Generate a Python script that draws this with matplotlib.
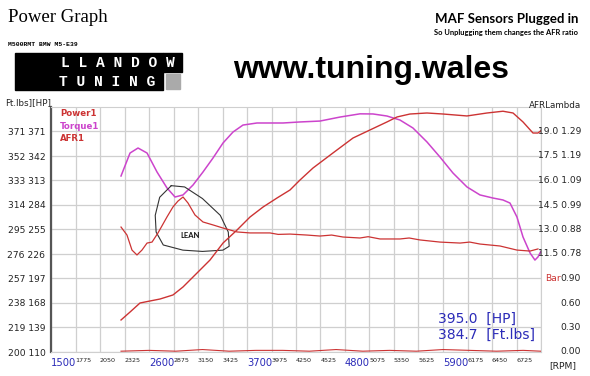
import numpy as np
import matplotlib
matplotlib.use("Agg")
import matplotlib.pyplot as plt
import matplotlib.transforms as mtrans
from matplotlib.patches import Rectangle

# dyno run
rpm_power = [2286, 2387, 2499, 2612, 2723, 2869, 2982, 3139, 3285, 3431, 3588, 3734, 3880,
             4037, 4183, 4295, 4441, 4665, 4890, 5080, 5271, 5384, 5529, 5720, 5900, 6169,
             6394, 6573, 6686, 6798, 6910, 6966, 6995]
power_hp = [147.9, 157.3, 168.0, 170.4, 172.7, 177.5, 187.0, 203.5, 218.9, 239.0, 254.4, 269.8,
            281.6, 292.3, 301.8, 313.6, 327.8, 345.6, 363.3, 372.8, 382.3, 388.2, 391.7, 392.9,
            391.7, 389.4, 392.9, 395.0, 392.9, 382.3, 369.2, 369.2, 371.6]

rpm_torque = [2286, 2387, 2477, 2578, 2690, 2802, 2892, 2982, 3094, 3206, 3318, 3431, 3543,
              3655, 3812, 4104, 4295, 4519, 4744, 4968, 5114, 5271, 5417, 5563, 5720, 5866,
              6012, 6169, 6315, 6461, 6573, 6652, 6730, 6798, 6877, 6932, 6966, 6995]
torque_ftlb = [336.5, 354.3, 358.2, 354.3, 339.6, 327.2, 320.2, 321.8, 329.5, 339.6, 350.4,
               362.1, 370.6, 376.0, 377.6, 377.6, 378.4, 379.1, 382.2, 384.7, 384.6, 383.0,
               379.9, 373.7, 362.9, 351.2, 338.8, 328.0, 321.8, 319.4, 317.9, 315.5, 304.7,
               289.2, 276.8, 271.3, 273.7, 277.6]

rpm_afr = [2286, 2353, 2409, 2465, 2521, 2578, 2634, 2701, 2802, 2869, 2925, 2982, 3038, 3116,
           3206, 3318, 3431, 3588, 3734, 3958, 4050, 4183, 4373, 4519, 4650, 4777, 4968, 5060,
           5193, 5417, 5520, 5642, 5866, 6091, 6200, 6315, 6540, 6730, 6877, 6966]
afr = [13.15, 12.66, 11.74, 11.44, 11.74, 12.17, 12.23, 12.79, 13.77, 14.38, 14.74, 14.99,
       14.62, 13.89, 13.46, 13.28, 13.09, 12.85, 12.79, 12.79, 12.70, 12.72, 12.66, 12.60,
       12.66, 12.54, 12.48, 12.56, 12.42, 12.42, 12.48, 12.36, 12.23, 12.17, 12.23, 12.11,
       11.99, 11.74, 11.68, 11.81]

rpm_bar = [2286, 2600, 2900, 3200, 3500, 3800, 4100, 4400, 4700, 5000, 5300, 5600, 5900,
           6200, 6500, 6800, 6995]
boost_bar = [0.01, 0.02, 0.01, 0.03, 0.01, 0.02, 0.02, 0.01, 0.03, 0.01, 0.02, 0.01, 0.03,
             0.02, 0.01, 0.02, 0.01]

torque_ticks = [200, 219, 238, 257, 276, 295, 314, 333, 352, 371]
hp_ticks = [110, 139, 168, 197, 226, 255, 284, 313, 342, 371]
afr_ticks = [11.5, 13.0, 14.5, 16.0, 17.5, 19.0]
lambda_labels = ["0.78", "0.88", "0.99", "1.09", "1.19", "1.29"]
bar_ticks = [0.00, 0.30, 0.60, 0.90]
rpm_ticks = list(range(1500, 6726, 275))
rpm_major = [1500, 2600, 3700, 4800, 5900]

# hand drawn ring round the lean spot (rpm, ft.lbs)
lean_rpm = [2850, 3000, 3200, 3400, 3490, 3500, 3430, 3200, 2980, 2760, 2680, 2670, 2720, 2850]
lean_tq = [329.0, 328.0, 319.0, 306.0, 293.0, 282.0, 279.0, 278.0, 279.0, 283.0, 293.0,
           306.0, 320.0, 329.0]

RED = "#cc3333"
MAG = "#cc44cc"
BLUE = "#2b2bb8"
GRID = "#cfcfcf"

fig = plt.figure(figsize=(5.9, 3.76), dpi=100)
ax = fig.add_axes([51 / 590, 24 / 376, 490 / 590, 245 / 376])

ax.set_xlim(1500, 7000)
ax.set_ylim(200, 390)
ax.set_xticks(list(range(1500, 7001, 275)))
ax.set_yticks(torque_ticks)
ax.grid(True, color=GRID, lw=0.9)
ax.set_axisbelow(True)
ax.tick_params(length=0)
ax.set_yticklabels([f"{t} {h}" for t, h in zip(torque_ticks, hp_ticks)],
                   fontsize=6.6, color="#222222")
ax.tick_params(axis="y", pad=4)
labels = []
for r in range(1500, 7001, 275):
    labels.append(str(r) if r in rpm_ticks else "")
ax.set_xticklabels(labels)
for lab in ax.get_xticklabels():
    lab.set_ha("left")
    if lab.get_text() and int(lab.get_text()) in rpm_major:
        lab.set_fontsize(7.2)
        lab.set_color(BLUE)
    else:
        lab.set_fontsize(4.6)
        lab.set_color("#222222")
ax.tick_params(axis="x", pad=4)
for s in ["top", "right", "bottom"]:
    ax.spines[s].set_color(GRID)
ax.spines["left"].set_color("#555555")
ax.spines["left"].set_linewidth(1.6)

ax.plot(rpm_torque, torque_ftlb, color=MAG, lw=1.1, zorder=3)
ax.plot(lean_rpm, lean_tq, color="#333333", lw=0.8, zorder=4)
ax.text(3060, 290, "LEAN", fontsize=5.5, fontweight="bold", family="Lato",
        ha="center", va="center", color="#111111")

axp = ax.twinx()
axp.set_ylim(110, 400)
axp.plot(rpm_power, power_hp, color=RED, lw=1.0)

axa = ax.twinx()
axa.set_ylim(5.5, 20.5)
axa.plot(rpm_afr, afr, color=RED, lw=0.9)

axb = ax.twinx()
axb.set_ylim(0, 3.0)
axb.plot(rpm_bar, boost_bar, color=RED, lw=0.8)

for a in (axp, axa, axb):
    a.set_yticks([])
    for s in a.spines.values():
        s.set_visible(False)

tr = mtrans.blended_transform_factory(ax.transAxes, axa.transData)
for v, lam in zip(afr_ticks, lambda_labels):
    axa.text(1.082, v, f"{v:.1f} {lam}", transform=tr, ha="right", va="center",
             fontsize=6.6, color="#222222")
trb = mtrans.blended_transform_factory(ax.transAxes, axb.transData)
for v in bar_ticks:
    axb.text(1.082, v, f"{v:.2f}", transform=trb, ha="right", va="center",
             fontsize=6.6, color="#222222")
axb.text(1.040, bar_ticks[-1], "Bar", transform=trb, ha="right", va="center",
         fontsize=6.6, color=RED)

# legend
ax.text(0.018, 0.99, "Power1", transform=ax.transAxes, fontsize=6.2, color=RED,
        fontweight="bold", va="top")
ax.text(0.018, 0.94, "Torque1", transform=ax.transAxes, fontsize=6.2, color=MAG,
        fontweight="bold", va="top")
ax.text(0.018, 0.89, "AFR1", transform=ax.transAxes, fontsize=6.2, color=RED,
        fontweight="bold", va="top")

# peak readout
ax.text(0.79, 0.135, f"{max(power_hp):.1f}  [HP]", transform=ax.transAxes,
        fontsize=10, color=BLUE, va="center")
ax.text(0.79, 0.07, f"{max(torque_ftlb):.1f}  [Ft.lbs]", transform=ax.transAxes,
        fontsize=10, color=BLUE, va="center")

# axis headers
fig.text(51 / 590, 1 - 103 / 376, "Ft.lbs][HP]", ha="right", va="center",
         fontsize=6.3, color="#222222")
fig.text(581 / 590, 1 - 105 / 376, "AFRLambda", ha="right", va="center",
         fontsize=6.3, color="#222222")
fig.text(576 / 590, 1 - 366 / 376, "[RPM]", ha="right", va="center",
         fontsize=6.6, color="#222222")

# header
fig.text(8 / 590, 1 - 18 / 376, "Power Graph", fontsize=13.5, family="Liberation Serif",
         va="center")
fig.text(8 / 590, 1 - 44 / 376, "M500RMT BMW M5-E39", fontsize=4.6,
         family="Liberation Mono", fontweight="bold", va="center")
fig.text(578 / 590, 1 - 19 / 376, "MAF Sensors Plugged in", fontsize=9.5, family="Lato",
         fontweight="bold", ha="right", va="center")
fig.text(578 / 590, 1 - 32 / 376, "So Unplugging them changes the AFR ratio", fontsize=5.4,
         family="Lato", fontweight="bold", ha="right", va="center")
fig.text(371 / 590, 1 - 70 / 376, "www.tuning.wales", fontsize=23,
         family="Liberation Sans", fontweight="bold", ha="center", va="center")

# logo
fig.patches.append(Rectangle((15 / 590, 1 - 90 / 376), 148 / 590, 37 / 376,
                             transform=fig.transFigure, color="black"))
fig.patches.append(Rectangle((163 / 590, 1 - 72 / 376), 19 / 590, 19 / 376,
                             transform=fig.transFigure, color="black"))
fig.patches.append(Rectangle((166 / 590, 1 - 89 / 376), 14 / 590, 15 / 376,
                             transform=fig.transFigure, color="#aaaaaa"))
fig.text(118 / 590, 1 - 63 / 376, "L L A N D O W", fontsize=10.5, family="Liberation Mono",
         fontweight="bold", color="white", ha="center", va="center")
fig.text(107 / 590, 1 - 82 / 376, "T U N I N G", fontsize=10.5, family="Liberation Mono",
         fontweight="bold", color="white", ha="center", va="center")

fig.savefig("out.png", dpi=100)
